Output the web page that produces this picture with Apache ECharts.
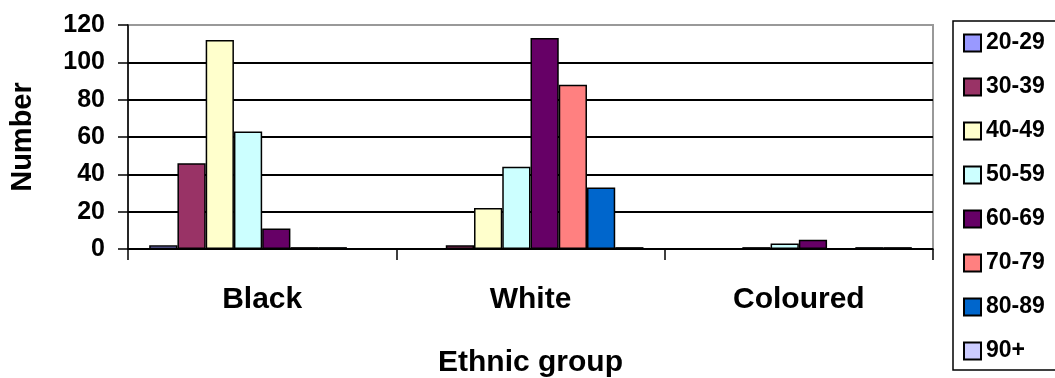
<!DOCTYPE html>
<html>
<head>
<meta charset="utf-8">
<script src="https://cdn.jsdelivr.net/npm/echarts@6/dist/echarts.min.js"></script>
<style>
  html, body { margin: 0; padding: 0; background: #fff; }
  #chart { width: 1055px; height: 378px; }
</style>
</head>
<body>
<div id="chart"></div>
<script>
// Ethnic groups along the x axis
const categories = ['Black', 'White', 'Coloured'];

// Age bands (one series each) and their colours
const ageGroups = ['20-29', '30-39', '40-49', '50-59', '60-69', '70-79', '80-89', '90+'];
const ageColors = ['#9999FF', '#993366', '#FFFFCC', '#CCFFFF', '#660066', '#FF8080', '#0066CC', '#CCCCFF'];

// Counts per age band: [Black, White, Coloured]
const age20_29 = [2, 0, 0];
const age30_39 = [46, 2, 0];
const age40_49 = [112, 22, 1];
const age50_59 = [63, 44, 3];
const age60_69 = [11, 113, 5];
const age70_79 = [1, 88, 0];
const age80_89 = [1, 33, 1];
const age90plus = [0, 1, 1];
const seriesValues = [age20_29, age30_39, age40_49, age50_59, age60_69, age70_79, age80_89, age90plus];

// Y axis scale
const yMin = 0, yMax = 120, yStep = 20;

const FONT = "'Liberation Sans', Arial, sans-serif";

const chart = echarts.init(document.getElementById('chart'), null, { renderer: 'canvas' });

chart.setOption({
  animation: false,
  backgroundColor: '#ffffff',
  textStyle: { fontFamily: FONT, color: '#000' },
  grid: {
    left: 128, right: 122, top: 25, bottom: 129,
    outerBoundsMode: 'none',
    containLabel: false,
    show: true, borderColor: '#999999', borderWidth: 2, backgroundColor: 'transparent'
  },
  legend: {
    orient: 'vertical',
    left: 953, top: 21,
    padding: [10, 40, 7, 10],
    itemWidth: 17, itemHeight: 17,
    itemGap: 20,
    borderColor: '#000', borderWidth: 1.5,
    icon: 'rect',
    textStyle: { fontFamily: FONT, fontWeight: 'bold', fontSize: 23, color: '#000', lineHeight: 24 },
    data: ageGroups
  },
  xAxis: {
    type: 'category',
    data: categories,
    name: 'Ethnic group',
    nameLocation: 'middle',
    nameGap: 99,
    nameTextStyle: { fontFamily: FONT, fontWeight: 'bold', fontSize: 30, color: '#000' },
    axisLine: { show: true, lineStyle: { color: '#000', width: 1.5 } },
    axisTick: { show: true, alignWithLabel: false, interval: 0, length: 11, lineStyle: { color: '#000', width: 1.5 } },
    axisLabel: { margin: 36, fontFamily: FONT, fontWeight: 'bold', fontSize: 30, color: '#000' },
    splitLine: { show: false }
  },
  yAxis: {
    type: 'value',
    min: yMin, max: yMax, interval: yStep,
    name: 'Number',
    nameLocation: 'middle',
    nameGap: 91,
    nameRotate: 90,
    nameTextStyle: { fontFamily: FONT, fontWeight: 'bold', fontSize: 29, color: '#000' },
    axisLine: { show: true, lineStyle: { color: '#000', width: 1.5 } },
    axisTick: { show: true, inside: false, length: 10, lineStyle: { color: '#000', width: 1.5 } },
    axisLabel: { margin: 23, fontFamily: FONT, fontWeight: 'bold', fontSize: 25, color: '#000' },
    splitLine: {
      show: true,
      lineStyle: { color: ['#000', '#000', '#000', '#000', '#000', '#000', '#999999'], width: 2 }
    }
  },
  series: ageGroups.map((name, i) => ({
    name,
    type: 'bar',
    data: seriesValues[i],
    barGap: '0%',
    barCategoryGap: '15.8%',
    itemStyle: { color: ageColors[i], borderColor: '#000', borderWidth: 1.5 },
    emphasis: { disabled: true }
  }))
});
</script>
</body>
</html>
